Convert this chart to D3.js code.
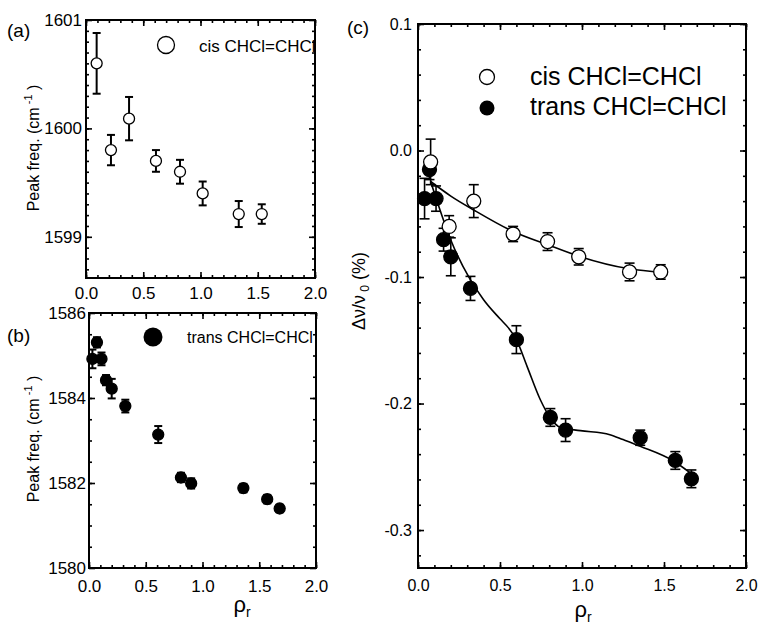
<!DOCTYPE html>
<html>
<head>
    <title>Peak frequency shift vs reduced density</title>
    <script src="https://d3js.org/d3.v7.min.js"></script>
    <style>
        body { margin: 0; background: #fff; }
        text { font-family: "Liberation Sans", Arial, sans-serif; fill: #000; }
    </style>
</head>
<body>
    <svg id="chart" width="760" height="624"></svg>

    <script>
      // (a) cis CHCl=CHCl peak frequency
      var aRho  = [0.093, 0.218, 0.376, 0.611, 0.821, 1.019, 1.334, 1.535];
      var aFreq = [1600.60, 1599.80, 1600.09, 1599.70, 1599.60, 1599.40, 1599.21, 1599.21];
      var aErr  = [0.28, 0.14, 0.20, 0.10, 0.11, 0.11, 0.12, 0.09];

      // (b) trans CHCl=CHCl peak frequency
      var bRho  = [0.03, 0.07, 0.11, 0.15, 0.20, 0.32, 0.61, 0.81, 0.90, 1.36, 1.57, 1.68];
      var bFreq = [1584.92, 1585.31, 1584.92, 1584.42, 1584.22, 1583.81, 1583.14, 1582.13, 1581.99, 1581.88, 1581.62, 1581.40];
      var bErr  = [0.22, 0.12, 0.15, 0.12, 0.23, 0.15, 0.20, 0.11, 0.12, 0.10, 0.10, 0.09];

      // (c) relative shift in %
      var cisRho   = [0.077, 0.19, 0.34, 0.58, 0.79, 0.98, 1.29, 1.48];
      var cisShift = [-0.009, -0.060, -0.040, -0.066, -0.072, -0.084, -0.096, -0.096];
      var cisErr   = [0.018, 0.0085, 0.013, 0.006, 0.007, 0.0065, 0.007, 0.0057];

      var transRho   = [0.04, 0.07, 0.11, 0.156, 0.20, 0.32, 0.60, 0.807, 0.90, 1.355, 1.569, 1.667];
      var transShift = [-0.038, -0.015, -0.038, -0.0705, -0.084, -0.109, -0.1495, -0.211, -0.221, -0.227, -0.245, -0.2595];
      var transErr   = [0.016, 0.008, 0.010, 0.009, 0.015, 0.0095, 0.011, 0.007, 0.009, 0.006, 0.007, 0.007];

      // guide curves through the (c) data
      var cisFitRho   = [0.077, 0.20, 0.34, 0.58, 0.79, 0.98, 1.29, 1.49];
      var cisFitShift = [-0.0245, -0.036, -0.047, -0.064, -0.0745, -0.0835, -0.0935, -0.0963];
      var transFitRho   = [0.077, 0.20, 0.40, 0.50, 0.55, 0.60, 0.665, 0.746, 0.80, 0.87, 0.99, 1.17, 1.25, 1.355, 1.56, 1.66];
      var transFitShift = [-0.0245, -0.0707, -0.118, -0.133, -0.140, -0.1495, -0.1706, -0.197, -0.210, -0.219, -0.2214, -0.2246, -0.2285, -0.2338, -0.2456, -0.2548];

      // axis ticks
      var rhoMajor = [0, 0.5, 1.0, 1.5, 2.0];
      var aMajor = [1599, 1600, 1601];
      var bMajor = [1580, 1582, 1584, 1586];
      var cMajor = [-0.3, -0.2, -0.1, 0.0, 0.1];

      var svg = d3.select("#chart");

      function range(a, b, step) {
          var out = [];
          var n = Math.round((b - a) / step);
          for (var i = 0; i <= n; i++) out.push(+(a + i * step).toFixed(4));
          return out;
      }

      function fmt(d) { return d.toFixed(1); }

      function drawFrame(p) {
          var g = svg.append("g");
          var x = p.x, y = p.y;
          var x0 = x.range()[0], x1 = x.range()[1];
          var y0 = y.range()[0], y1 = y.range()[1];

          // bottom + top
          g.append("g").attr("transform", "translate(0," + y0 + ")")
              .call(d3.axisBottom(x).tickValues(p.xMinor).tickFormat("").tickSizeInner(-3).tickSizeOuter(0));
          g.append("g").attr("transform", "translate(0," + y0 + ")")
              .call(d3.axisBottom(x).tickValues(rhoMajor).tickFormat(fmt).tickSizeInner(-6).tickSizeOuter(0).tickPadding(p.xPad));
          g.append("g").attr("transform", "translate(0," + y1 + ")")
              .call(d3.axisTop(x).tickValues(p.xMinor).tickFormat("").tickSizeInner(-3).tickSizeOuter(0));
          g.append("g").attr("transform", "translate(0," + y1 + ")")
              .call(d3.axisTop(x).tickValues(rhoMajor).tickFormat("").tickSizeInner(-6).tickSizeOuter(0));

          // left + right
          g.append("g").attr("transform", "translate(" + x0 + ",0)")
              .call(d3.axisLeft(y).tickValues(p.yMinor).tickFormat("").tickSizeInner(-3).tickSizeOuter(0));
          g.append("g").attr("transform", "translate(" + x0 + ",0)")
              .call(d3.axisLeft(y).tickValues(p.yMajor).tickFormat(p.yFmt).tickSizeInner(-6).tickSizeOuter(0).tickPadding(p.yPad));
          g.append("g").attr("transform", "translate(" + x1 + ",0)")
              .call(d3.axisRight(y).tickValues(p.yMinor).tickFormat("").tickSizeInner(-3).tickSizeOuter(0));
          g.append("g").attr("transform", "translate(" + x1 + ",0)")
              .call(d3.axisRight(y).tickValues(p.yMajor).tickFormat("").tickSizeInner(-6).tickSizeOuter(0));

          g.selectAll(".domain").remove();
          g.selectAll(".tick line").attr("stroke", "#000").attr("stroke-width", 1.6);
          g.selectAll(".tick text").style("font-size", p.tickFont + "px").attr("fill", "#000");

          g.append("rect")
              .attr("x", x0).attr("y", y1)
              .attr("width", x1 - x0).attr("height", y0 - y1)
              .attr("fill", "none").attr("stroke", "#000").attr("stroke-width", 2);
      }

      function drawPoints(x, y, xs, ys, errs, opt) {
          var g = svg.append("g");
          var pts = xs.map(function(v, i) { return {x: v, y: ys[i], e: errs[i]}; });

          var bars = g.selectAll(".err").data(pts).enter().append("g")
              .attr("stroke", "#000").attr("stroke-width", opt.errWidth);
          bars.append("line")
              .attr("x1", d => x(d.x)).attr("x2", d => x(d.x))
              .attr("y1", d => y(d.y + d.e)).attr("y2", d => y(d.y - d.e));
          bars.append("line")
              .attr("x1", d => x(d.x) - opt.cap).attr("x2", d => x(d.x) + opt.cap)
              .attr("y1", d => y(d.y + d.e)).attr("y2", d => y(d.y + d.e));
          bars.append("line")
              .attr("x1", d => x(d.x) - opt.cap).attr("x2", d => x(d.x) + opt.cap)
              .attr("y1", d => y(d.y - d.e)).attr("y2", d => y(d.y - d.e));

          g.selectAll("circle").data(pts).enter().append("circle")
              .attr("cx", d => x(d.x)).attr("cy", d => y(d.y))
              .attr("r", opt.r)
              .attr("fill", opt.filled ? "#000" : "#fff")
              .attr("stroke", "#000").attr("stroke-width", 1.3);
      }

      function drawFit(x, y, xs, ys) {
          var line = d3.line()
              .x(d => x(d[0])).y(d => y(d[1]))
              .curve(d3.curveMonotoneX);
          svg.append("path")
              .datum(xs.map(function(v, i) { return [v, ys[i]]; }))
              .attr("d", line)
              .attr("fill", "none").attr("stroke", "#000").attr("stroke-width", 1.6);
      }

      function label(txt, x, y, size, anchor) {
          return svg.append("text").attr("x", x).attr("y", y)
              .attr("text-anchor", anchor || "start")
              .style("font-size", size + "px").text(txt);
      }

      function yTitleFreq(cx, cy) {
          var t = svg.append("text")
              .attr("transform", "translate(" + cx + "," + cy + ") rotate(-90)")
              .attr("text-anchor", "middle")
              .style("font-size", "16px");
          t.append("tspan").text("Peak freq. (cm");
          t.append("tspan").attr("dy", -7).style("font-size", "11px").text(" -1");
          t.append("tspan").attr("dy", 7).text(" )");
      }

      function rhoTitle(cx, cy) {
          var t = svg.append("text").attr("x", cx).attr("y", cy)
              .attr("text-anchor", "middle").style("font-size", "22px");
          t.append("tspan").text("\u03c1");
          t.append("tspan").attr("dy", 5).style("font-size", "14px").text("r");
      }

      // ---- panel (a)
      var ax = d3.scaleLinear().domain([0, 2]).range([86, 315]);
      var ay = d3.scaleLinear().domain([1598.62, 1601]).range([278, 20]);
      drawFrame({x: ax, y: ay, xMinor: range(0, 2, 0.1), yMinor: range(1598.7, 1600.9, 0.1),
                 yMajor: aMajor, yFmt: d3.format("d"), xPad: 9, yPad: 4, tickFont: 17});
      drawPoints(ax, ay, aRho, aFreq, aErr, {r: 5.5, filled: false, cap: 4, errWidth: 2});
      svg.append("circle").attr("cx", 166).attr("cy", 45).attr("r", 8.5)
          .attr("fill", "#fff").attr("stroke", "#000").attr("stroke-width", 1.3);
      label("cis CHCl=CHCl", 199, 52, 17);
      label("(a)", 7, 37, 19);
      yTitleFreq(39, 148);

      // ---- panel (b)
      var bx = d3.scaleLinear().domain([0, 2]).range([89, 316]);
      var by = d3.scaleLinear().domain([1580, 1586]).range([568, 313]);
      drawFrame({x: bx, y: by, xMinor: range(0, 2, 0.1), yMinor: range(1580.5, 1585.5, 0.5),
                 yMajor: bMajor, yFmt: d3.format("d"), xPad: 12, yPad: 3, tickFont: 17});
      drawPoints(bx, by, bRho, bFreq, bErr, {r: 5.5, filled: true, cap: 4, errWidth: 2});
      svg.append("circle").attr("cx", 153).attr("cy", 337).attr("r", 9.5).attr("fill", "#000");
      label("trans CHCl=CHCl", 187, 343, 16);
      label("(b)", 7, 342, 19);
      yTitleFreq(39, 439);
      rhoTitle(242, 612);

      // ---- panel (c)
      var cx = d3.scaleLinear().domain([0, 2]).range([418, 746]);
      var cy = d3.scaleLinear().domain([-0.33, 0.1]).range([568, 24]);
      drawFrame({x: cx, y: cy, xMinor: range(0, 2, 0.1), yMinor: range(-0.32, 0.1, 0.02),
                 yMajor: cMajor, yFmt: fmt, xPad: 12, yPad: 6, tickFont: 16});
      drawFit(cx, cy, cisFitRho, cisFitShift);
      drawFit(cx, cy, transFitRho, transFitShift);
      drawPoints(cx, cy, transRho, transShift, transErr, {r: 7, filled: true, cap: 5, errWidth: 1.6});
      drawPoints(cx, cy, cisRho, cisShift, cisErr, {r: 7, filled: false, cap: 5, errWidth: 1.6});

      svg.append("circle").attr("cx", 487).attr("cy", 77).attr("r", 7.5)
          .attr("fill", "#fff").attr("stroke", "#000").attr("stroke-width", 1.3);
      svg.append("circle").attr("cx", 487).attr("cy", 108).attr("r", 7.5).attr("fill", "#000");
      label("cis CHCl=CHCl", 530, 85, 25);
      label("trans CHCl=CHCl", 530, 115, 25);
      label("(c)", 347, 34, 19);

      var yt = svg.append("text")
          .attr("transform", "translate(365,291) rotate(-90)")
          .attr("text-anchor", "middle").style("font-size", "18px");
      yt.append("tspan").text("\u0394\u03bd/\u03bd");
      yt.append("tspan").attr("dy", 4).style("font-size", "12px").text(" 0");
      yt.append("tspan").attr("dy", -4).text(" (%)");
      rhoTitle(583, 617);
    </script>
</body>
</html>
